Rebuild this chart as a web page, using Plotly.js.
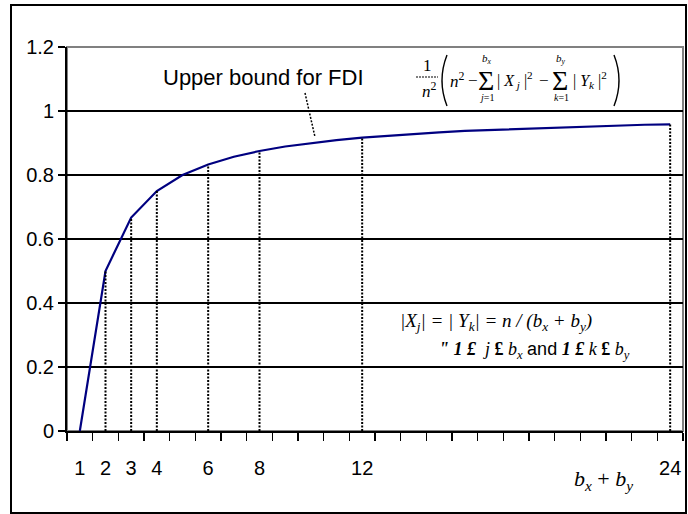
<!DOCTYPE html>
<html>
<head>
<meta charset="utf-8">
<script src="https://cdn.plot.ly/plotly-3.0.1.min.js"></script>
<style>
  body { margin: 0; background: #fff; }
  #chart { width: 688px; height: 514px; }
</style>
</head>
<body>
<div id="chart"></div>
<script>
// b_x + b_y categories and the upper bound
const categories = ['1','2','3','4','5','6','7','8','9','10','11','12',
                    '13','14','15','16','17','18','19','20','21','22','23','24'];
const upperBound = [0, 0.5, 0.667, 0.75, 0.8, 0.833, 0.857, 0.875, 0.889, 0.9, 0.909, 0.917,
                    0.923, 0.929, 0.933, 0.938, 0.941, 0.944, 0.947, 0.95, 0.952, 0.955, 0.957, 0.958];
// categories with a dropped dotted line and a tick label
const marked = ['2', '3', '4', '6', '8', '12', '24'];
const labelled = ['1', '2', '3', '4', '6', '8', '12', '24'];

// plot area in pixels: left 67, right 683, top 47, bottom 431
const L = 67, R = 683, T = 47, B = 431;
const px = x => (x - L) / (R - L);
const py = y => (B - y) / (B - T);

const traces = [{
  x: categories, y: upperBound, mode: 'lines', type: 'scatter',
  line: { color: '#000080', width: 2.2 }, hoverinfo: 'skip'
}];
marked.forEach(c => {
  const v = upperBound[categories.indexOf(c)];
  traces.push({
    x: [c, c], y: [0, v], mode: 'lines', type: 'scatter',
    line: { color: '#000', width: 2, dash: '2px,1.5px' }, hoverinfo: 'skip'
  });
});

const times = 'Liberation Serif, Times New Roman, serif';
const arial = 'Liberation Sans, Arial, sans-serif';

function note(x, y, text, size, family, extra) {
  return Object.assign({
    xref: 'paper', yref: 'paper', x: px(x), y: py(y), text: text, showarrow: false,
    xanchor: 'center', yanchor: 'middle',
    font: { family: family, size: size, color: '#000' }
  }, extra || {});
}

const annotations = [
  note(263, 78, 'Upper bound for FDI', 22, arial),
  // 1/n^2 ( n^2 - sum |X_j|^2 - sum |Y_k|^2 )
  note(427, 66, '1', 17, times),
  note(429, 90, '<i>n</i><sup>2</sup>', 17, times),
  note(457, 80, '<i>n</i><sup>2</sup>', 17, times),
  note(473, 81, '\u2212', 17, times),
  note(486, 80, '\u03a3', 28, times),
  note(487, 59, '<i>b<sub>x</sub></i>', 11, times),
  note(487, 97, '<i>j</i>=1', 10, times),
  note(515, 80, '| <i>X</i><sub> <i>j</i></sub> |<sup>2</sup>', 16, times),
  note(544, 81, '\u2212', 17, times),
  note(560, 80, '\u03a3', 28, times),
  note(561, 59, '<i>b<sub>y</sub></i>', 11, times),
  note(561, 97, '<i>k</i>=1', 10, times),
  note(590, 80, '| <i>Y</i><sub><i>k</i></sub> |<sup>2</sup>', 16, times),
  // condition text
  note(398, 322, '<i>|X<sub>j</sub>| = | Y<sub>k</sub>| = n / (b<sub>x</sub> + b<sub>y</sub>)</i>', 19, times,
       { xanchor: 'left' }),
  note(437, 350, '<b><i>" 1 \u00a3</i></b>  <i>j</i> <b>\u00a3</b> <i>b<sub>x</sub></i> ' +
       '<span style="font-family:Liberation Sans, Arial">and</span> ' +
       '<b><i>1 \u00a3</i></b> <i>k</i> <b>\u00a3</b> <i>b<sub>y</sub></i>', 18, times,
       { xanchor: 'left' }),
  note(603, 480, '<i>b<sub>x</sub></i> + <i>b<sub>y</sub></i>', 22, times)
];

// thin curved bracket drawn as an svg path in paper coordinates
function paren(x, yTop, yBot, bulge) {
  const ym = (yTop + yBot) / 2;
  return {
    type: 'path', xref: 'paper', yref: 'paper',
    path: 'M ' + px(x) + ',' + py(yTop) + ' Q ' + px(x - bulge) + ',' + py(ym) + ' ' + px(x) + ',' + py(yBot),
    line: { color: '#000', width: 1.4 }
  };
}

const shapes = [
  // outer chart border
  { type: 'rect', xref: 'paper', yref: 'paper', x0: px(11), x1: px(686), y0: py(513), y1: py(5),
    line: { color: '#000', width: 2 } },
  // plot area border (grey top and right)
  { type: 'rect', xref: 'paper', yref: 'paper', x0: 0, x1: 1, y0: 0, y1: 1, layer: 'below',
    line: { color: '#808080', width: 2 } },
  // fraction bar
  { type: 'line', xref: 'paper', yref: 'paper', x0: px(416), x1: px(438), y0: py(77), y1: py(77),
    line: { color: '#000', width: 1.2, dash: '2px,1px' } },
  paren(447, 55, 106, 10),
  paren(614, 55, 106, -10),
  // leader line to the curve
  { type: 'line', xref: 'paper', yref: 'paper', x0: px(305), x1: px(315), y0: py(93), y1: py(137),
    line: { color: '#000', width: 1.5, dash: '2px,1.5px' } }
];

const layout = {
  width: 688, height: 514,
  margin: { l: L, r: 688 - R, t: T, b: 514 - B },
  paper_bgcolor: '#fff', plot_bgcolor: '#fff',
  showlegend: false,
  font: { family: arial, size: 20, color: '#000' },
  xaxis: {
    type: 'category', categoryorder: 'array', categoryarray: categories,
    range: [-0.5, 23.5],
    tickvals: categories,
    ticktext: categories.map(c => labelled.includes(c) ? c : ''),
    tickangle: 0,
    tickson: 'boundaries', ticks: 'outside', ticklen: 8, tickwidth: 1.5, tickcolor: '#000',
    ticklabelstandoff: 18,
    showgrid: false, zeroline: false,
    showline: true, linecolor: '#000', linewidth: 2,
    tickfont: { family: arial, size: 20, color: '#000' }
  },
  yaxis: {
    range: [0, 1.2], dtick: 0.2, tick0: 0,
    ticks: 'outside', ticklen: 7, tickwidth: 1.5, tickcolor: '#000',
    showgrid: true, gridcolor: '#000', gridwidth: 1.4,
    zeroline: false, showline: true, linecolor: '#000', linewidth: 2,
    tickfont: { family: arial, size: 20, color: '#000' }
  },
  annotations: annotations,
  shapes: shapes
};

Plotly.newPlot('chart', traces, layout, { displayModeBar: false, staticPlot: true });
</script>
</body>
</html>
